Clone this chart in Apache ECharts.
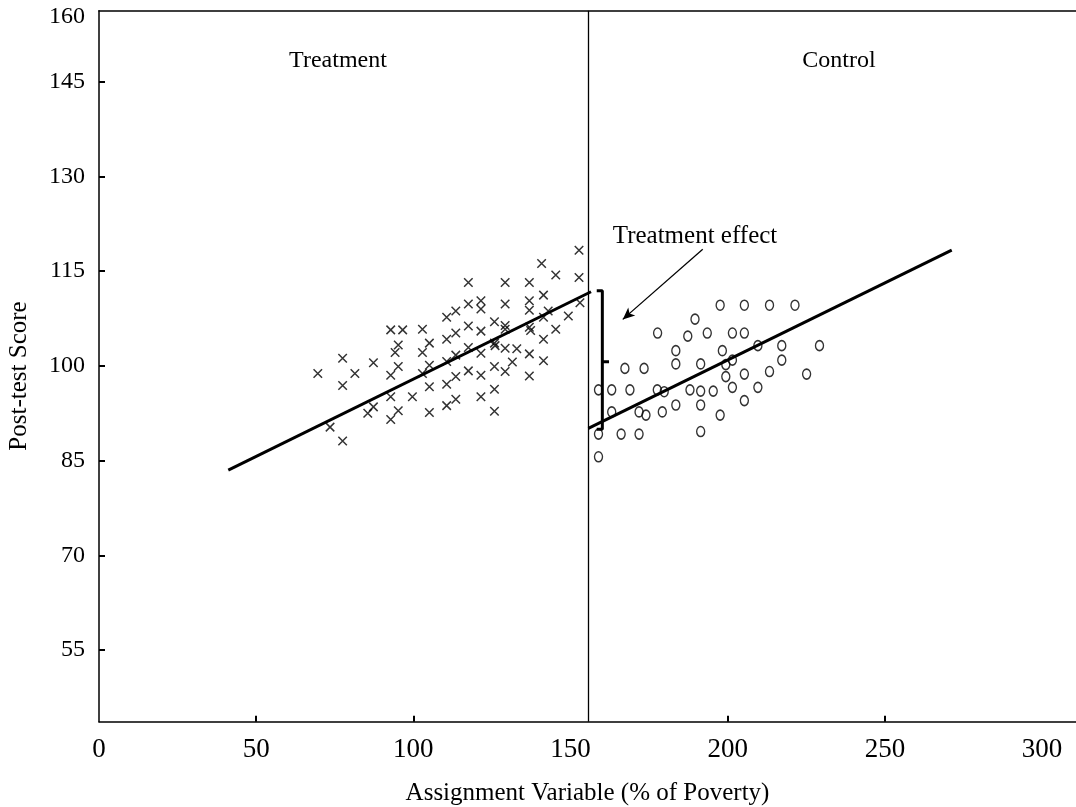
<!DOCTYPE html>
<html><head><meta charset="utf-8">
<script src="https://cdn.jsdelivr.net/npm/echarts@6/dist/echarts.min.js"></script>
<style>html,body{margin:0;padding:0;background:#fff}#c{width:1076px;height:807px}</style>
</head><body><div id="c"></div>
<script>
// ---- data ----
const xTickLabels = [0, 50, 100, 150, 200, 250, 300];
const xTickMarks = [50, 100, 200, 250];
const yTickLabels = [55, 70, 85, 100, 115, 130, 145];
const yTopLabelValue = 155.25;
const yTopLabelText = '160';
const cutoff = 155.66;

const treatment = [
  [77.5,101.2],[87.3,100.5],[69.6,98.8],[81.4,98.8],[77.5,96.9],[87.3,93.5],[85.5,92.5],[73.5,90.3],[77.5,88.1],
  [152.7,118.3],[140.8,116.2],[145.3,114.4],[152.7,114.0],[117.5,113.2],[129.2,113.2],[136.9,113.2],[141.4,111.2],
  [117.5,109.8],[121.5,110.3],[121.5,109.0],[129.2,109.8],[136.9,110.3],[136.9,108.8],[142.9,108.7],[153.0,110.0],
  [113.5,108.7],[110.6,107.7],[141.4,107.7],[149.3,107.9],[125.8,107.0],[129.2,106.4],[129.2,105.8],[136.9,106.1],
  [137.3,105.6],[117.5,106.3],[121.5,105.5],[145.3,105.8],[92.8,105.7],[96.6,105.7],[102.9,105.8],[113.5,105.2],
  [110.6,104.2],[141.4,104.2],[95.2,103.3],[105.1,103.6],[125.8,103.6],[126.0,103.2],[94.2,102.1],[102.9,102.1],
  [117.5,102.9],[121.5,102.0],[129.2,102.8],[132.9,102.7],[136.9,101.9],[113.5,101.7],[110.6,100.7],[105.1,100.1],
  [95.2,99.9],[92.8,98.5],[102.9,98.8],[117.5,99.2],[121.5,98.5],[125.8,99.9],[129.2,99.1],[131.5,100.6],
  [141.4,100.8],[136.9,98.4],[113.5,98.3],[110.6,97.1],[105.1,96.7],[125.8,96.3],[92.8,95.1],[99.7,95.1],
  [113.5,94.7],[110.6,93.7],[121.5,95.1],[95.2,92.9],[92.8,91.5],[105.1,92.6],[125.8,92.8]
];

const control = [
  [197.6,109.6],[205.3,109.6],[213.3,109.6],[221.4,109.6],[189.6,107.4],[177.7,105.2],[187.3,104.7],[193.5,105.2],
  [201.5,105.2],[205.3,105.2],[209.6,103.2],[217.2,103.2],[229.2,103.2],[183.5,102.4],[198.3,102.4],[201.5,100.9],
  [217.2,100.9],[199.4,100.2],[183.5,100.3],[191.4,100.3],[167.3,99.6],[173.4,99.6],[199.4,98.3],[205.3,98.7],
  [213.3,99.1],[225.1,98.7],[158.9,96.2],[163.1,96.2],[168.9,96.2],[177.6,96.2],[179.8,95.9],[188.0,96.2],
  [191.4,96.0],[195.4,96.0],[201.5,96.6],[209.6,96.6],[163.1,92.7],[171.8,92.7],[174.0,92.2],[179.2,92.7],
  [183.5,93.8],[191.4,93.8],[205.3,94.5],[197.6,92.2],[158.9,89.2],[166.1,89.2],[171.8,89.2],[191.4,89.6],
  [158.9,85.6]
];

const treatmentLine = [[41.13, 83.49], [156.52, 111.74]];
const controlLine = [[155.66, 90.10], [271.27, 118.34]];
const effectBracket = [[158.34, 111.9], [160.12, 111.9], [160.12, 89.94], [158.34, 89.94]];
const effectMidTick = [[160.12, 100.65], [162.25, 100.65]];
const effectArrow = [[192.06, 118.45], [166.61, 107.36]];

// ---- chart ----
const FONT = '"Liberation Serif", "Times New Roman", serif';
const chart = echarts.init(document.getElementById('c'), null, { renderer: 'canvas' });
const axisLine = { show: true, lineStyle: { color: '#000', width: 1.5 } };

chart.setOption({
  animation: false,
  backgroundColor: '#fff',
  grid: { left: 99, right: 0, top: 10.7, bottom: 85.3, containLabel: false, outerBoundsMode: 'none' },
  xAxis: [{
    type: 'value', min: 0, max: 310.8, position: 'bottom',
    axisLine: axisLine,
    axisTick: { show: true, inside: true, length: 6, lineStyle: { color: '#000', width: 2 }, customValues: xTickMarks },
    axisLabel: { show: true, customValues: xTickLabels, margin: 15, color: '#000', fontFamily: FONT, fontSize: 27 },
    splitLine: { show: false },
    name: 'Assignment Variable (% of Poverty)', nameLocation: 'middle', nameGap: 59,
    nameTextStyle: { color: '#000', fontFamily: FONT, fontSize: 25 }
  }, {
    type: 'value', min: 0, max: 310.8, position: 'top',
    axisLine: axisLine, axisTick: { show: false }, axisLabel: { show: false }, splitLine: { show: false }
  }],
  yAxis: {
    type: 'value', min: 43.64, max: 156.25,
    axisLine: axisLine,
    axisTick: { show: true, inside: true, length: 6, lineStyle: { color: '#000', width: 2 }, customValues: yTickLabels },
    axisLabel: {
      show: true, customValues: yTickLabels.concat([yTopLabelValue]), margin: 14,
      color: '#000', fontFamily: FONT, fontSize: 24,
      formatter: v => (v > 150 ? yTopLabelText : String(v))
    },
    splitLine: { show: false }
  },
  graphic: [
    { type: 'text', x: 19, y: 376, rotation: Math.PI / 2,
      style: { text: 'Post-test Score', fill: '#000', font: '25px ' + FONT, align: 'center', verticalAlign: 'middle' } },
    { type: 'text', x: 338, y: 61,
      style: { text: 'Treatment', fill: '#000', font: '24px ' + FONT, align: 'center', verticalAlign: 'middle' } },
    { type: 'text', x: 839, y: 61,
      style: { text: 'Control', fill: '#000', font: '24px ' + FONT, align: 'center', verticalAlign: 'middle' } },
    { type: 'text', x: 695, y: 236,
      style: { text: 'Treatment effect', fill: '#000', font: '25px ' + FONT, align: 'center', verticalAlign: 'middle' } }
  ],
  series: [
    {
      type: 'scatter', name: 'Treatment', data: treatment,
      symbol: 'path://M0,0L10,10M0,10L10,0', symbolSize: [8.5, 8.5],
      itemStyle: { color: 'transparent', borderColor: '#000', borderWidth: 1.5 },
      markLine: {
        silent: true, symbol: 'none', label: { show: false },
        lineStyle: { color: '#000', width: 1.3, type: 'solid' },
        data: [{ xAxis: cutoff }]
      }
    },
    {
      type: 'scatter', name: 'Control', data: control,
      symbol: 'path://M0,5a5,5 0 1,0 10,0a5,5 0 1,0 -10,0', symbolSize: [8, 10],
      itemStyle: { color: 'transparent', borderColor: '#000', borderWidth: 1.5 },
      markLine: {
        silent: true, symbol: ['none', 'arrow'], symbolSize: [8, 12], label: { show: false },
        lineStyle: { color: '#000', width: 1.3, type: 'solid' },
        data: [[{ coord: effectArrow[0] }, { coord: effectArrow[1] }]]
      }
    },
    { type: 'line', data: treatmentLine, showSymbol: false, symbol: 'none', lineStyle: { color: '#000', width: 3 } },
    { type: 'line', data: controlLine, showSymbol: false, symbol: 'none', lineStyle: { color: '#000', width: 3 } },
    { type: 'line', data: effectBracket, showSymbol: false, symbol: 'none', lineStyle: { color: '#000', width: 3 } },
    { type: 'line', data: effectMidTick, showSymbol: false, symbol: 'none', lineStyle: { color: '#000', width: 3 } }
  ]
});
</script>
</body></html>
